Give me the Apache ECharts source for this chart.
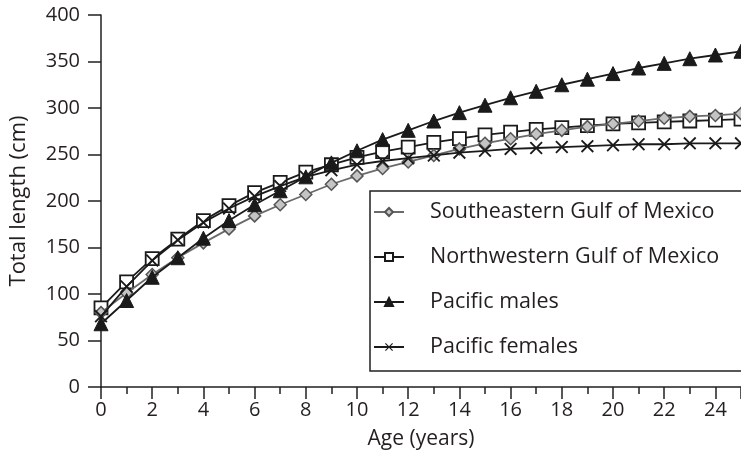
<!DOCTYPE html>
<html>
<head>
<meta charset="utf-8">
<script src="https://cdn.jsdelivr.net/npm/echarts@6/dist/echarts.min.js"></script>
<style>
html,body{margin:0;padding:0;background:#fff;}
#chart{width:741px;height:465px;}
</style>
</head>
<body>
<div id="chart"></div>
<script>
var ages = [0,1,2,3,4,5,6,7,8,9,10,11,12,13,14,15,16,17,18,19,20,21,22,23,24,25];
var seGulf = [80,101,121,139,155,170,184,196,207,218,227,235,242,249,256,262,267,272,276,280,283,286,289,291,292,294];
var nwGulf = [85,113,138,159,179,195,209,220,231,239,247,253,258,263,267,271,274,277,279,281,283,284,285,286,287,288];
var pacMales = [68,93,118,139,160,179,196,211,226,241,254,266,276,286,295,303,311,318,325,331,337,343,348,353,357,361];
var pacFemales = [76,108,136,158,177,192,205,216,226,233,239,243,246,249,252,254,256,257,258,259,260,261,261,262,262,262];
var seriesNames = ['Southeastern Gulf of Mexico','Northwestern Gulf of Mexico','Pacific males','Pacific females'];
var xTicks = [0,2,4,6,8,10,12,14,16,18,20,22,24];
var yTicks = [0,50,100,150,200,250,300,350,400];

function pairs(vals){ return ages.map(function(a,i){ return [a, vals[i]]; }); }

var FONT = '"Open Sans", "Noto Sans", sans-serif';
var TXT = '#231f20';
var crossPath = 'path://M0,1 L1,0 L5,4 L9,0 L10,1 L6,5 L10,9 L9,10 L5,6 L1,10 L0,9 L4,5 Z';

var chart = echarts.init(document.getElementById('chart'), null, {renderer:'canvas'});
chart.setOption({
  animation: false,
  backgroundColor: '#fff',
  grid: {left: 99, top: 15, right: -2, bottom: 78, containLabel: false},
  xAxis: {
    type: 'value', min: 0, max: 25, interval: 2,
    name: 'Age (years)', nameLocation: 'middle', nameGap: 42,
    nameTextStyle: {fontFamily: FONT, fontSize: 21, color: TXT},
    axisLine: {show: true, lineStyle: {color: TXT, width: 1.5}},
    axisTick: {show: true, length: 12, lineStyle: {color: TXT, width: 1.5}},
    minorTick: {show: true, splitNumber: 2, length: 7, lineStyle: {color: TXT, width: 1.5}},
    splitLine: {show: false},
    axisLabel: {fontFamily: FONT, fontSize: 20, color: TXT, margin: 13, showMaxLabel: false,
      formatter: function(v){ return xTicks.indexOf(v) >= 0 ? String(v) : ''; }}
  },
  yAxis: {
    type: 'value', min: 0, max: 400, interval: 50,
    name: 'Total length (cm)', nameLocation: 'middle', nameGap: 71,
    nameTextStyle: {fontFamily: FONT, fontSize: 22, color: TXT},
    axisLine: {show: true, lineStyle: {color: TXT, width: 1.5}},
    axisTick: {show: true, length: 13, lineStyle: {color: TXT, width: 1.5}},
    splitLine: {show: false},
    axisLabel: {fontFamily: FONT, fontSize: 20, color: TXT, margin: 21,
      formatter: function(v){ return yTicks.indexOf(v) >= 0 ? String(v) : ''; }}
  },
  legend: {
    data: seriesNames,
    orient: 'vertical', left: 370, top: 191,
    padding: [10, 40, 13, 3],
    borderColor: TXT, borderWidth: 1.5,
    itemWidth: 30, itemHeight: 10, itemGap: 23,
    textStyle: {fontFamily: FONT, fontSize: 21.5, color: TXT, lineHeight: 22, padding: [0,0,0,21]}
  },
  series: [
    {name: seriesNames[1], type: 'line', data: pairs(nwGulf), symbol: 'rect', symbolSize: 13,
     lineStyle: {color: '#1a1a1a', width: 1.8},
     itemStyle: {color: '#fff', borderColor: '#1a1a1a', borderWidth: 1.8}, z: 2},
    {name: seriesNames[0], type: 'line', data: pairs(seGulf), symbol: 'diamond', symbolSize: 12,
     lineStyle: {color: '#6a6a6a', width: 1.8},
     itemStyle: {color: '#c4c4c4', borderColor: '#555', borderWidth: 1.5}, z: 3},
    {name: seriesNames[2], type: 'line', data: pairs(pacMales), symbol: 'triangle', symbolSize: 14,
     lineStyle: {color: '#1a1a1a', width: 1.8},
     itemStyle: {color: '#1a1a1a', borderColor: '#1a1a1a', borderWidth: 1}, z: 4},
    {name: seriesNames[3], type: 'line', data: pairs(pacFemales), symbol: crossPath, symbolSize: 13,
     lineStyle: {color: '#1a1a1a', width: 1.8},
     itemStyle: {color: '#1a1a1a', borderWidth: 0}, z: 5}
  ]
});
</script>
</body>
</html>
